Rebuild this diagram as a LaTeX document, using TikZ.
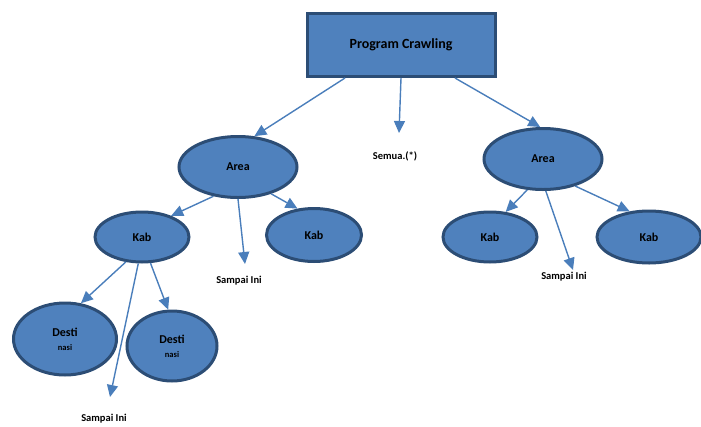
\documentclass[tikz,border=0pt]{standalone}
\usepackage{fontspec}
\setmainfont{Carlito}
\usetikzlibrary{arrows.meta,shapes.geometric}
\definecolor{boxfill}{HTML}{4F81BD}
\definecolor{boxedge}{HTML}{2C4D75}
\definecolor{linkblue}{HTML}{4A7EBB}
\tikzset{
  topbox/.style={draw=boxedge, line width=3pt, fill=boxfill, minimum width=188pt, minimum height=63pt, inner sep=0pt, font=\fontsize{14}{16}\selectfont\bfseries},
  oval/.style={ellipse, draw=boxedge, line width=3pt, fill=boxfill, inner sep=0pt, font=\fontsize{12}{14}\selectfont\bfseries},
  leaflabel/.style={font=\fontsize{10.5}{12}\selectfont\bfseries, inner sep=0pt},
  link/.style={draw=linkblue, line width=1.4pt, -{Triangle[length=12pt,width=11pt]}}
}
\begin{document}
\begin{tikzpicture}[x=1pt,y=-1pt]
\useasboundingbox (0,0) rectangle (701,426);

% nodes
\node[topbox] (root) at (401,45) {Program Crawling};
\node[oval, minimum width=118pt, minimum height=61pt] (areaL) at (238,167) {Area};
\node[oval, minimum width=118pt, minimum height=61pt] (areaR) at (543,159) {Area};
\node[oval, minimum width=94pt, minimum height=50pt] (kabL) at (142,237) {Kab};
\node[oval, minimum width=95pt, minimum height=53pt] (kabM) at (314,235) {Kab};
\node[oval, minimum width=94pt, minimum height=50pt] (kabR1) at (490,237) {Kab};
\node[oval, minimum width=104pt, minimum height=52pt] (kabR2) at (649,237) {Kab};
\node[oval, minimum width=103pt, minimum height=72pt, align=center, font=\fontsize{12}{15}\selectfont\bfseries] (destL) at (65,339) {Desti\\[-1pt]{\fontsize{8.5}{9}\selectfont nasi}};
\node[oval, minimum width=90pt, minimum height=70pt, align=center, font=\fontsize{12}{15}\selectfont\bfseries] (destR) at (172,346) {Desti\\[-1pt]{\fontsize{8.5}{9}\selectfont nasi}};

% free ends and their labels
\coordinate (endTop) at (399,133);
\coordinate (endAL) at (245,264);
\coordinate (endAR) at (573,270);
\coordinate (endKL) at (110,397);
\node[leaflabel] (lblTop) at (395,156) {Semua.(*)};
\node[leaflabel] (lblAL) at (239,281) {Sampai Ini};
\node[leaflabel] (lblAR) at (564,277) {Sampai Ini};
\node[leaflabel] (lblKL) at (104,419) {Sampai Ini};

% connectors
\draw[link] ([xshift=-56pt]root.south) -- (areaL.62);
\draw[link] ([xshift=54pt]root.south) -- (areaR.95);
\draw[link] (root.south) -- (endTop);

\draw[link] (areaL.230) -- (kabL.36);
\draw[link] (areaL.south) -- (endAL);
\draw[link] (areaL.321) -- (kabM.122);

\draw[link] (areaR.243) -- (kabR1.58);
\draw[link] (areaR.275) -- (endAR);
\draw[link] (areaR.320) -- (kabR2.127);

\draw[link] (kabL.237) -- (destL.66);
\draw[link] (kabL.262) -- (endKL);
\draw[link] (kabL.288) -- (destR.96);
\end{tikzpicture}
\end{document}
